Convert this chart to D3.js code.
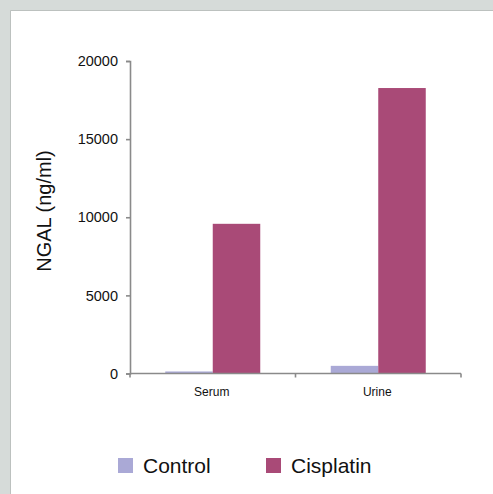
<!DOCTYPE html>
<html>
<head>
<meta charset="utf-8">
<script src="https://cdn.jsdelivr.net/npm/d3@7"></script>
<style>
  html, body { margin: 0; padding: 0; background: #d6dbd9; }
  svg { display: block; font-family: "Liberation Sans", Arial, Helvetica, sans-serif; }
</style>
</head>
<body>
<script>
const categories = ["Serum", "Urine"];
const seriesNames = ["Control", "Cisplatin"];
const controlValues = [130, 490];
const cisplatinValues = [9580, 18270];
const yTicks = [0, 5000, 10000, 15000, 20000];
const colors = ["#aaa9d6", "#a94a77"];

const W = 493, H = 494;
const svg = d3.select("body").append("svg").attr("width", W).attr("height", H);

// panel
svg.append("rect").attr("x", 0).attr("y", 0).attr("width", W).attr("height", H).attr("fill", "#d6dbd9");
svg.append("rect").attr("x", 11).attr("y", 11).attr("width", W - 11).attr("height", H - 11).attr("fill", "#ffffff");
svg.append("line").attr("x1", 10.5).attr("x2", 10.5).attr("y1", 10.5).attr("y2", H).attr("stroke", "#bcc1bf");
svg.append("line").attr("x1", 10.5).attr("x2", W).attr("y1", 10.5).attr("y2", 10.5).attr("stroke", "#bcc1bf");

const plotLeft = 130, plotRight = 461, plotTop = 61, plotBottom = 373.5;

const y = d3.scaleLinear().domain([0, 20000]).range([plotBottom, plotTop]);
const xb = d3.scaleBand().domain(categories).range([plotLeft, plotRight]).padding(0);
const x0 = d3.scaleBand().domain(categories).range([plotLeft, plotRight]).paddingInner(0.426).paddingOuter(0.213);
const x1 = d3.scaleBand().domain(seriesNames).range([0, x0.bandwidth()]);

const data = categories.map((c, i) => ({
  cat: c,
  vals: [{s: "Control", v: controlValues[i]}, {s: "Cisplatin", v: cisplatinValues[i]}]
}));

// bars
const g = svg.append("g");
g.selectAll("g.grp").data(data).join("g")
  .attr("transform", d => `translate(${x0(d.cat)},0)`)
  .selectAll("rect").data(d => d.vals).join("rect")
  .attr("x", d => x1(d.s))
  .attr("width", x1.bandwidth())
  .attr("y", d => y(d.v))
  .attr("height", d => y(0) - y(d.v))
  .attr("fill", (d, i) => colors[i]);

const axisColor = "#8a8a8a";

// y axis
const yAxis = d3.axisLeft(y).tickValues(yTicks).tickSize(4).tickPadding(8).tickFormat(d3.format("d"));
const ya = svg.append("g").attr("transform", `translate(${plotLeft},0)`).call(yAxis);
ya.select(".domain").attr("stroke", axisColor).attr("stroke-width", 1.6);
ya.selectAll(".tick line").attr("stroke", axisColor).attr("stroke-width", 1.6);
ya.selectAll(".tick text").attr("fill", "#111").style("font-size", "14.5px")
  .style("font-family", "'Liberation Sans', Arial, sans-serif");

// x axis
svg.append("line").attr("x1", plotLeft).attr("x2", plotRight).attr("y1", plotBottom).attr("y2", plotBottom)
  .attr("stroke", axisColor).attr("stroke-width", 1.6);
const tickXs = categories.map(c => xb(c)).concat([xb(categories[categories.length - 1]) + xb.bandwidth()]);
svg.selectAll("line.xt").data(tickXs).join("line").attr("class", "xt")
  .attr("x1", d => d).attr("x2", d => d).attr("y1", plotBottom).attr("y2", plotBottom + 4)
  .attr("stroke", axisColor).attr("stroke-width", 1.6);
svg.selectAll("text.xl").data(categories).join("text").attr("class", "xl")
  .attr("x", d => xb(d) + xb.bandwidth() / 2 - 1)
  .attr("y", 395.5)
  .attr("text-anchor", "middle")
  .style("font-size", "12px").attr("fill", "#111")
  .text(d => d);

// y label
svg.append("text")
  .attr("transform", `translate(51,211) rotate(-90)`)
  .attr("text-anchor", "middle")
  .style("font-size", "20px").attr("fill", "#111")
  .text("NGAL (ng/ml)");

// legend
const legendX = [118, 266];
const lg = svg.selectAll("g.lg").data(seriesNames).join("g").attr("class", "lg")
  .attr("transform", (d, i) => `translate(${legendX[i]},458)`);
lg.append("rect").attr("width", 15).attr("height", 15).attr("fill", (d, i) => colors[i]);
lg.append("text").attr("x", 25).attr("y", 14.5).style("font-size", "21px").attr("fill", "#111").text(d => d);
</script>
</body>
</html>
